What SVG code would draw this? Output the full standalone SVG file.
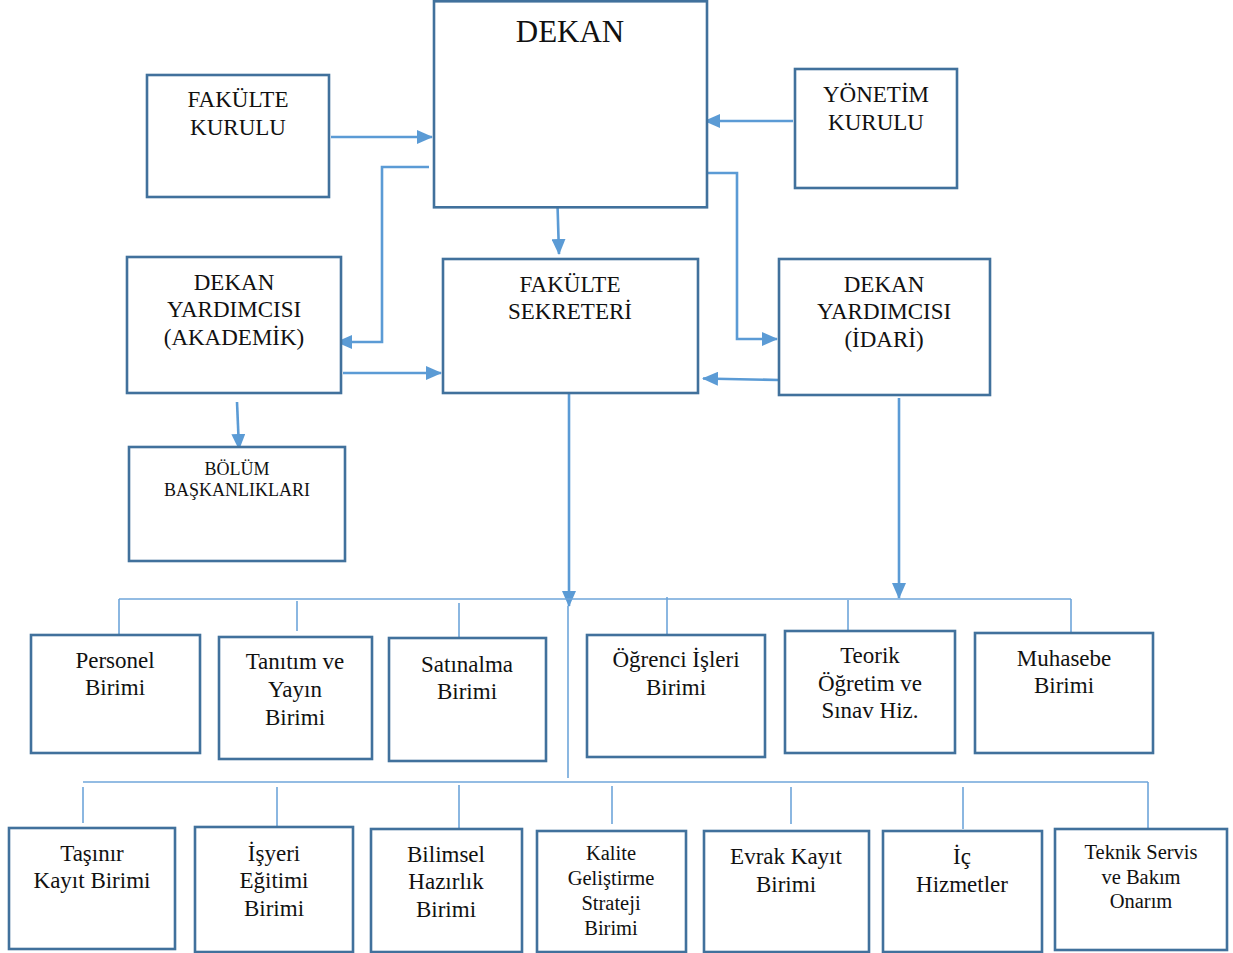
<svg xmlns="http://www.w3.org/2000/svg" width="1233" height="953" viewBox="0 0 1233 953">
<defs>
<style>
.box{fill:#fff;stroke:#41719C;stroke-width:2.6}
.t{font-family:"Liberation Serif","Times New Roman",serif;font-size:23px;fill:#111;text-anchor:middle}
.s{font-size:20.5px}
.xs{font-size:18px}
.big{font-size:31px}
.arr{fill:none;stroke:#5B9BD5;stroke-width:2.6}
.bus{fill:none;stroke:#6FA6DA;stroke-width:1.6}
</style>
<marker id="ah" viewBox="0 0 16 14" refX="15" refY="7" markerWidth="16" markerHeight="14" orient="auto" markerUnits="userSpaceOnUse">
<path d="M0,0 L16,7 L0,14 z" fill="#5B9BD5"/>
</marker>
</defs>
<rect width="1233" height="953" fill="#fff"/>

<g id="connectors">
<path class="arr" d="M331,137 H432" marker-end="url(#ah)"/>
<path class="arr" d="M429,167 H382 V342 H337" marker-end="url(#ah)"/>
<path class="arr" d="M557.5,205 L559,254" marker-end="url(#ah)"/>
<path class="arr" d="M793,121 H705" marker-end="url(#ah)"/>
<path class="arr" d="M698,173 H737 V339 H777" marker-end="url(#ah)"/>
<path class="arr" d="M343,373 H441" marker-end="url(#ah)"/>
<path class="arr" d="M779,380 L703,378.5" marker-end="url(#ah)"/>
<path class="arr" d="M237,402 L239,449" marker-end="url(#ah)"/>
<path class="arr" d="M569,393 V606" marker-end="url(#ah)"/>
<path class="arr" d="M899,398 V598" marker-end="url(#ah)"/>
<path class="bus" d="M568,606 V778"/>
<path class="bus" d="M119,599 H1071"/>
<path class="bus" d="M119,599 V636 M297,601 V631 M459,603 V637 M667,597 V634 M848,600 V638 M1071,599 V632"/>
<path class="bus" d="M83,782 H1148"/>
<path class="bus" d="M83,787 V823 M277,787 V826 M459,785 V828 M612,786 V824 M791,787 V824 M963,787 V829 M1148,782 V829"/>
</g>

<g id="dekan"><rect class="box" x="434" y="1.3" width="273" height="206"/><text class="t big" x="570" y="42">DEKAN</text></g>
<g id="fakulte-kurulu"><rect class="box" x="147" y="75" width="182" height="122"/><text class="t" x="238" y="107">FAKÜLTE</text><text class="t" x="238" y="135">KURULU</text></g>
<g id="yonetim-kurulu"><rect class="box" x="795" y="69" width="162" height="119"/><text class="t" x="876" y="102">YÖNETİM</text><text class="t" x="876" y="130">KURULU</text></g>
<g id="dekan-yardimcisi-akademik"><rect class="box" x="127" y="257" width="214" height="136"/><text class="t" x="234" y="290">DEKAN</text><text class="t" x="234" y="317">YARDIMCISI</text><text class="t" x="234" y="345">(AKADEMİK)</text></g>
<g id="fakulte-sekreteri"><rect class="box" x="443" y="259" width="255" height="134"/><text class="t" x="570" y="292">FAKÜLTE</text><text class="t" x="570" y="319">SEKRETERİ</text></g>
<g id="dekan-yardimcisi-idari"><rect class="box" x="779" y="259" width="211" height="136"/><text class="t" x="884" y="292">DEKAN</text><text class="t" x="884" y="319">YARDIMCISI</text><text class="t" x="884" y="347">(İDARİ)</text></g>
<g id="bolum-baskanliklari"><rect class="box" x="129" y="447" width="216" height="114"/><text class="t xs" x="237" y="475">BÖLÜM</text><text class="t xs" x="237" y="496">BAŞKANLIKLARI</text></g>

<g id="personel"><rect class="box" x="31" y="635" width="169" height="118"/><text class="t" x="115" y="668">Personel</text><text class="t" x="115" y="695">Birimi</text></g>
<g id="tanitim"><rect class="box" x="219" y="637" width="153" height="122"/><text class="t" x="295" y="669">Tanıtım ve</text><text class="t" x="295" y="697">Yayın</text><text class="t" x="295" y="725">Birimi</text></g>
<g id="satinalma"><rect class="box" x="389" y="638" width="157" height="123"/><text class="t" x="467" y="672">Satınalma</text><text class="t" x="467" y="699">Birimi</text></g>
<g id="ogrenci-isleri"><rect class="box" x="587" y="635" width="178" height="122"/><text class="t" x="676" y="667">Öğrenci İşleri</text><text class="t" x="676" y="695">Birimi</text></g>
<g id="teorik"><rect class="box" x="785" y="631" width="170" height="122"/><text class="t" x="870" y="663">Teorik</text><text class="t" x="870" y="691">Öğretim ve</text><text class="t" x="870" y="718">Sınav Hiz.</text></g>
<g id="muhasebe"><rect class="box" x="975" y="633" width="178" height="120"/><text class="t" x="1064" y="666">Muhasebe</text><text class="t" x="1064" y="693">Birimi</text></g>

<g id="tasinir"><rect class="box" x="9" y="828" width="166" height="121"/><text class="t" x="92" y="861">Taşınır</text><text class="t" x="92" y="888">Kayıt Birimi</text></g>
<g id="isyeri"><rect class="box" x="195" y="827" width="158" height="125"/><text class="t" x="274" y="861">İşyeri</text><text class="t" x="274" y="888">Eğitimi</text><text class="t" x="274" y="916">Birimi</text></g>
<g id="bilimsel"><rect class="box" x="371" y="829" width="151" height="123"/><text class="t" x="446" y="862">Bilimsel</text><text class="t" x="446" y="889">Hazırlık</text><text class="t" x="446" y="917">Birimi</text></g>
<g id="kalite"><rect class="box" x="537" y="831" width="149" height="121"/><text class="t s" x="611" y="860">Kalite</text><text class="t s" x="611" y="885">Geliştirme</text><text class="t s" x="611" y="910">Strateji</text><text class="t s" x="611" y="935">Birimi</text></g>
<g id="evrak"><rect class="box" x="704" y="831" width="165" height="121"/><text class="t" x="786" y="864">Evrak Kayıt</text><text class="t" x="786" y="892">Birimi</text></g>
<g id="ic-hizmetler"><rect class="box" x="883" y="831" width="159" height="121"/><text class="t" x="962" y="864">İç</text><text class="t" x="962" y="892">Hizmetler</text></g>
<g id="teknik-servis"><rect class="box" x="1055" y="829" width="172" height="121"/><text class="t s" x="1141" y="859">Teknik Servis</text><text class="t s" x="1141" y="884">ve Bakım</text><text class="t s" x="1141" y="908">Onarım</text></g>
</svg>
